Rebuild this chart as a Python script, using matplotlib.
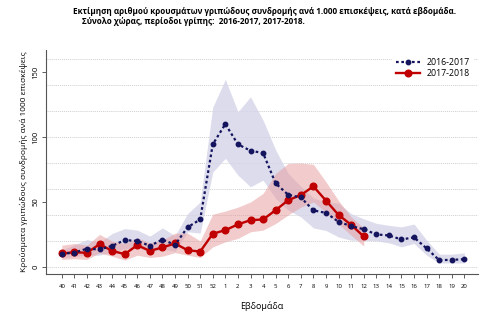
import matplotlib
matplotlib.use("Agg")
import matplotlib.pyplot as plt
import numpy as np

plt.rcParams['font.family'] = ['Open Sans', 'DejaVu Sans']

weeks = ['40','41','42','43','44','45','46','47','48','49','50','51','52',
         '1','2','3','4','5','6','7','8','9','10','11','12','13','14','15','16','17','18','19','20']

s1617 = [10, 11, 14, 13.4, 16.2, 20.6, 20, 16.2, 21, 17, 30.5, 36.5, 94.4, 110, 94.4, 89.5,
         87.7, 64.3, 55.5, 53.5, 43.5, 41.6, 34.7, 31.4, 29, 25, 24.2, 21.1, 22.7, 14.2, 5.2, 5.4, 5.9]
s1617_hi = [13, 17, 21, 19, 25.7, 29.5, 28.3, 23.7, 30, 24, 41, 50, 123, 144.5, 119.5, 131,
            113, 90, 72, 62, 53, 50, 49, 41, 37, 33.5, 32, 30.8, 33, 20.6, 9.8, 9.8, 10.8]
s1617_lo = [7, 8, 9, 9, 11.6, 14, 14.7, 11.6, 13.6, 12, 27, 26, 73, 83.6, 70.7, 61.7,
            66.8, 52.7, 43.7, 38.5, 30, 28, 23, 20.5, 20.5, 20, 18.5, 15.4, 18, 9, 3, 3, 3]

s1718 = [10.3, 11.3, 10.8, 17.5, 12.3, 9.8, 16.7, 12.3, 15, 18, 12.8, 11.8, 25.5, 28.3, 32.7, 36,
         36.5, 43.7, 51.4, 55.3, 62, 51, 40, 32.4, 23.4]
s1718_hi = [16.7, 18, 16.7, 25, 19.8, 18, 22.4, 18.5, 20.6, 26, 26, 20, 40.6, 43, 46, 50,
            56.6, 72, 79.7, 80, 79, 65.5, 51, 38.5, 30]
s1718_lo = [5.7, 6.3, 5.7, 10.8, 8.2, 5.2, 9, 7.2, 8.2, 11, 9, 7.2, 15.4, 19.3, 21.9, 27,
            28.3, 33.4, 40, 46, 50, 42, 33, 24.4, 16]

fig = plt.figure(figsize=(4.85, 3.21), dpi=100)
ax = fig.add_axes([0.095, 0.146, 0.891, 0.698])

x1 = np.arange(len(s1617))
x2 = np.arange(len(s1718))

ax.fill_between(x1, s1617_lo, s1617_hi, color='#d4d4e9', alpha=0.8, lw=0, zorder=1)
ax.fill_between(x2, s1718_lo, s1718_hi, color='#e69a9a', alpha=0.5, lw=0, zorder=2)

ax.plot(x1, s1617, color='#14145e', ls=(0, (1.2, 1.2)), lw=1.6, marker='o', ms=3.2,
        zorder=4, label='2016-2017')
ax.plot(x2, s1718, color='#c00000', ls='-', lw=1.7, marker='o', ms=4.8,
        zorder=3, label='2017-2018')

for g in range(0, 161, 20):
    ax.axhline(g, color='#cfcfcf', lw=0.7, ls=(0, (1, 1)), zorder=0)

ax.set_xlim(-1.25, 33.1)
ax.set_ylim(-5.6, 167)
ax.set_xticks(x1)
ax.set_xticklabels(weeks, fontsize=4.3)
ax.set_yticks([0, 50, 100, 150])
ax.set_yticklabels(['0', '50', '100', '150'], fontsize=5.5, rotation=90, va='center')
ax.tick_params(axis='x', length=3, width=0.6, color='#444444', pad=4)
ax.tick_params(axis='y', length=3, width=0.6, color='#444444', pad=2)
for s in ['top', 'right']:
    ax.spines[s].set_visible(False)
for s in ['left', 'bottom']:
    ax.spines[s].set_color('#555555')
    ax.spines[s].set_linewidth(0.8)

ax.set_xlabel('Εβδομάδα', fontsize=6.5, labelpad=9)
ax.set_ylabel('Κρούσματα γριπώδους συνδρομής ανά 1000 επισκέψεις', fontsize=6, labelpad=3)

leg = ax.legend(loc='upper right', fontsize=6.3, frameon=True, framealpha=1,
                edgecolor='white', facecolor='white', handlelength=2.8,
                borderaxespad=0.5, labelspacing=0.25)
leg.get_frame().set_linewidth(0)

fig.text(0.151, 0.965, 'Εκτίμηση αριθμού κρουσμάτων γριπώδους συνδρομής ανά 1.000 επισκέψεις, κατά εβδομάδα.',
         fontsize=5.9, fontweight='bold', ha='left', va='center')
fig.text(0.169, 0.932, 'Σύνολο χώρας, περίοδοι γρίπης:  2016-2017, 2017-2018.',
         fontsize=5.9, fontweight='bold', ha='left', va='center')

fig.savefig('out.png', dpi=100)
